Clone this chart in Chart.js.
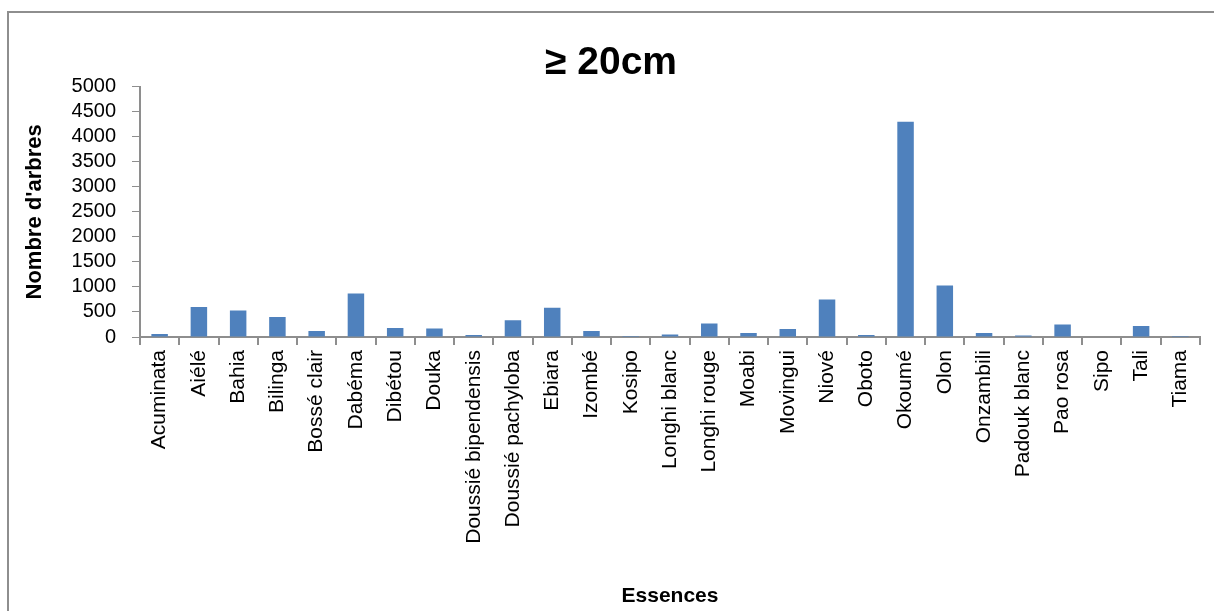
<!DOCTYPE html>
<html>
<head>
<meta charset="utf-8">
<script src="https://cdn.jsdelivr.net/npm/chart.js@4/dist/chart.umd.min.js"></script>
<style>
  html, body { margin: 0; padding: 0; background: #fff; overflow: hidden; }
  #wrap { position: absolute; left: 0; top: 0; width: 1214px; height: 611px; }
  #frame { position: absolute; left: 7px; top: 11px; width: 1240px; height: 700px; border: 2px solid #8e8e8e; pointer-events: none; }
</style>
</head>
<body>
<div id="wrap"><canvas id="chart"></canvas></div>
<div id="frame"></div>
<script>
const essences = ['Acuminata', 'Aiélé', 'Bahia', 'Bilinga', 'Bossé clair', 'Dabéma', 'Dibétou', 'Douka',
    'Doussié bipendensis', 'Doussié pachyloba', 'Ebiara', 'Izombé', 'Kosipo', 'Longhi blanc', 'Longhi rouge',
    'Moabi', 'Movingui', 'Niové', 'Oboto', 'Okoumé', 'Olon', 'Onzambili', 'Padouk blanc', 'Pao rosa', 'Sipo',
    'Tali', 'Tiama'];
const nombreArbres = [60, 600, 530, 400, 120, 870, 180, 172, 40, 336, 587, 120, 20, 50, 270,
    80, 160, 750, 40, 4300, 1030, 80, 30, 250, 0, 220, 20];

const font = "'Liberation Sans', Arial, sans-serif";

new Chart(document.getElementById('chart').getContext('2d'), {
    type: 'bar',
    data: {
        labels: essences,
        datasets: [{
            data: nombreArbres,
            backgroundColor: '#4F81BD',
            barPercentage: 0.42,
            categoryPercentage: 1
        }]
    },
    options: {
        responsive: true, maintainAspectRatio: false, animation: false,
        layout: { padding: { left: 22, right: 14, top: 0, bottom: 2 } },
        plugins: {
            legend: { display: false },
            tooltip: { enabled: false },
            title: {
                display: true, text: '≥ 20cm', color: '#000',
                font: { family: font, size: 39, weight: 'bold' },
                padding: { top: 40, bottom: 0 }
            }
        },
        scales: {
            y: {
                min: 0, max: 5000,
                ticks: {
                    stepSize: 500, autoSkip: false, color: '#000', font: { family: font, size: 20 }, padding: 16,
                    callback: v => String(v)
                },
                grid: { drawOnChartArea: false, color: '#8e8e8e', tickLength: 8 },
                border: { color: '#8e8e8e', width: 2 },
                title: { display: true, text: "Nombre d'arbres", color: '#000', font: { family: font, size: 22, weight: 'bold' }, padding: 0 },
                afterFit: s => { s.width = 118; }
            },
            x: {
                ticks: { color: '#000', font: { family: font, size: 21 }, minRotation: 90, maxRotation: 90, autoSkip: false, padding: 5 },
                grid: { drawOnChartArea: false, color: '#8e8e8e', tickLength: 8, lineWidth: 2 },
                border: { color: '#8e8e8e', width: 2 },
                title: { display: true, text: 'Essences', color: '#000', font: { family: font, size: 21, weight: 'bold' }, padding: 0 },
                afterFit: s => { s.height = 272; }
            }
        }
    }
});
</script>
</body>
</html>
